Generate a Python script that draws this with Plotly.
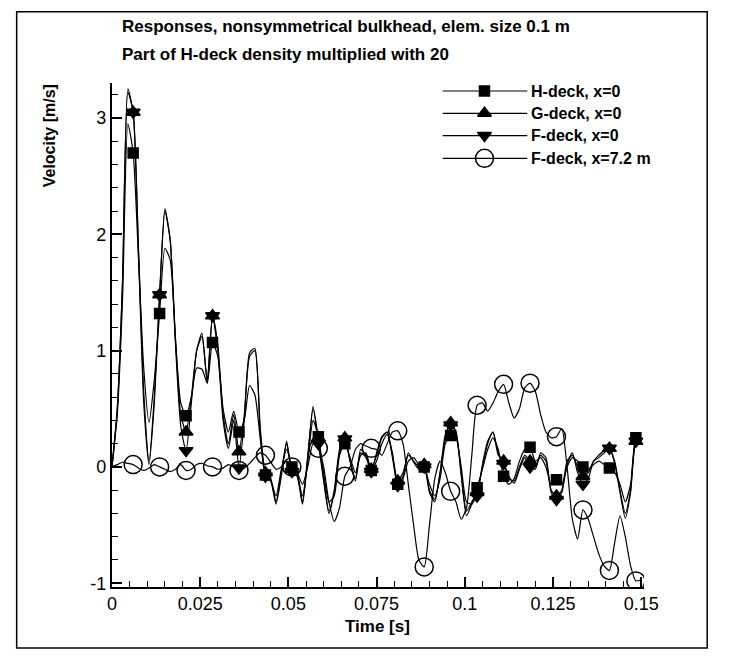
import plotly.graph_objects as go

# ---------------- data ----------------
n_samples = 101
dt = 0.0015
time_s = [round(i * dt, 5) for i in range(n_samples)]
marker_idx = list(range(4, n_samples, 5))

h_deck = [0.00, 0.45, 1.45, 2.95, 2.70, 1.80, 0.85, 0.38, 0.75, 1.32,
          1.88, 1.78, 1.10, 0.55, 0.44, 0.60, 0.85, 0.84, 0.72, 1.07,
          0.95, 0.50, 0.30, 0.48, 0.30, 0.40, 0.70, 0.62, 0.25, -0.07,
          -0.12, -0.25, -0.02, 0.15, 0.00, -0.08, -0.25, 0.05, 0.40, 0.26,
          -0.05, -0.30, -0.25, 0.10, 0.20, 0.08, -0.05, 0.10, 0.12, -0.03,
          0.05, 0.20, 0.28, 0.12, -0.15, -0.10, 0.05, 0.08, 0.02, 0.00,
          -0.15, -0.25, -0.10, 0.20, 0.27, 0.25, 0.00, -0.30, -0.32, -0.18,
          -0.02, 0.15, 0.25, 0.15, -0.08, -0.15, -0.10, 0.05, 0.15, 0.17,
          0.05, 0.08, 0.00, -0.15, -0.11, -0.15, 0.00, 0.08, 0.05, 0.00,
          -0.02, 0.02, 0.05, 0.02, -0.01, -0.05, -0.15, -0.30, -0.15, 0.25,
          0.27]

g_deck = [0.00, 0.50, 1.60, 3.22, 3.05, 1.90, 0.65, 0.05, 0.60, 1.48,
          2.20, 1.95, 1.10, 0.45, 0.30, 0.60, 1.00, 1.12, 0.75, 1.30,
          1.05, 0.45, 0.20, 0.45, 0.13, 0.45, 0.95, 1.00, 0.35, -0.05,
          -0.10, -0.30, -0.05, 0.20, -0.02, -0.05, -0.30, 0.10, 0.50, 0.25,
          -0.10, -0.38, -0.20, 0.15, 0.25, 0.05, -0.10, 0.15, 0.10, -0.02,
          0.10, 0.25, 0.30, 0.10, -0.12, -0.05, 0.10, 0.05, 0.00, 0.02,
          -0.20, -0.28, -0.05, 0.25, 0.38, 0.30, -0.05, -0.38, -0.30, -0.22,
          0.00, 0.20, 0.30, 0.10, 0.05, -0.10, -0.12, 0.00, 0.10, 0.05,
          0.00, 0.10, 0.05, -0.20, -0.25, -0.20, 0.05, 0.10, 0.00, -0.08,
          -0.05, 0.05, 0.08, 0.12, 0.16, 0.05, -0.20, -0.40, -0.20, 0.22,
          0.25]

f_deck = [0.00, 0.50, 1.60, 3.25, 3.05, 1.85, 0.55, 0.02, 0.55, 1.48,
          2.22, 1.95, 1.05, 0.35, 0.14, 0.55, 1.00, 1.15, 0.72, 1.30,
          1.00, 0.40, 0.16, 0.40, -0.01, 0.40, 0.98, 1.02, 0.30, -0.08,
          -0.12, -0.32, -0.08, 0.22, -0.04, -0.08, -0.32, 0.08, 0.52, 0.20,
          -0.12, -0.40, -0.22, 0.12, 0.24, 0.05, -0.12, 0.12, 0.08, -0.04,
          0.12, 0.26, 0.30, 0.08, -0.16, -0.08, 0.12, 0.04, -0.02, 0.00,
          -0.22, -0.30, -0.05, 0.28, 0.36, 0.30, -0.08, -0.42, -0.32, -0.25,
          0.02, 0.22, 0.30, 0.12, 0.03, -0.08, -0.14, -0.02, 0.08, 0.00,
          -0.02, 0.12, 0.08, -0.22, -0.28, -0.22, 0.02, 0.12, -0.05, -0.15,
          -0.10, 0.05, 0.10, 0.14, 0.16, 0.03, -0.22, -0.44, -0.22, 0.22,
          0.24]

f_deck_72 = [0.00, 0.02, 0.04, 0.03, 0.02, -0.01, -0.03, -0.01, 0.02, 0.00,
             -0.02, -0.04, -0.02, 0.02, -0.03, -0.02, 0.02, 0.03, 0.01, 0.00,
             -0.02, -0.01, 0.02, 0.00, -0.03, -0.01, 0.03, 0.08, 0.12, 0.10,
             0.04, -0.02, 0.00, 0.05, 0.00, -0.05, -0.15, 0.00, 0.20, 0.16,
             0.00, -0.30, -0.47, -0.35, -0.08, 0.00, 0.15, 0.20, 0.18, 0.16,
             0.15, 0.10, 0.20, 0.30, 0.31, 0.20, -0.15, -0.50, -0.80, -0.86,
             -0.50, -0.10, 0.05, -0.05, -0.21, -0.30, -0.45, -0.35, 0.10, 0.53,
             0.55, 0.48, 0.55, 0.65, 0.71, 0.55, 0.42, 0.50, 0.68, 0.72,
             0.65, 0.45, 0.30, 0.25, 0.26, 0.33, 0.00, -0.45, -0.62, -0.37,
             -0.45, -0.60, -0.75, -0.85, -0.89, -0.65, -0.42, -0.60, -0.85, -0.98,
             -0.97]

series_names = ["H-deck, x=0", "G-deck, x=0", "F-deck, x=0", "F-deck, x=7.2 m"]
series_values = [h_deck, g_deck, f_deck, f_deck_72]
series_symbols = ["square", "triangle-up", "triangle-down", "circle-open"]
series_sizes = [10, 12, 12, 18]

x_ticks = [0, 0.025, 0.05, 0.075, 0.1, 0.125, 0.15]
x_tick_text = ["0", "0.025", "0.05", "0.075", "0.1", "0.125", "0.15"]
y_ticks = [-1, 0, 1, 2, 3]
y_tick_text = ["-1", "0", "1", "2", "3"]

# ---------------- layout constants (pixels) ----------------
W, H = 729, 660
FONT = "Liberation Sans, Arial, Helvetica, sans-serif"
plot_left, plot_right = 110, 657
plot_top, plot_bottom = 84, 593


def px(x):
    return x / W


def py(y):
    return 1 - y / H


fig = go.Figure()

for vals, sym, size in zip(series_values, series_symbols, series_sizes):
    fig.add_trace(go.Scatter(
        x=time_s, y=vals, mode="lines",
        line=dict(color="black", width=1.2, shape="spline", smoothing=0.6),
        showlegend=False, hoverinfo="skip"))
    fig.add_trace(go.Scatter(
        x=[time_s[i] for i in marker_idx], y=[vals[i] for i in marker_idx],
        mode="markers",
        marker=dict(symbol=sym, size=size, color="black",
                    line=dict(color="black", width=1.5)),
        showlegend=False, hoverinfo="skip"))

# custom legend drawn on a full-page overlay axis
leg_rows = [92, 114.5, 137, 160]
leg_x0, leg_x1, leg_mx, leg_tx = 450, 537, 493, 539
for row, name, sym, size in zip(leg_rows, series_names, series_symbols, series_sizes):
    fig.add_trace(go.Scatter(
        x=[leg_x0, leg_x1], y=[row, row], mode="lines",
        line=dict(color="black", width=1.2), xaxis="x2", yaxis="y2",
        showlegend=False, hoverinfo="skip"))
    fig.add_trace(go.Scatter(
        x=[leg_mx], y=[row], mode="markers",
        marker=dict(symbol=sym, size=size, color="black",
                    line=dict(color="black", width=1.5)),
        xaxis="x2", yaxis="y2", showlegend=False, hoverinfo="skip"))

annotations = []
for row, name in zip(leg_rows, series_names):
    annotations.append(dict(x=px(leg_tx), y=py(row), xref="paper", yref="paper",
                            text="<b>" + name + "</b>", showarrow=False,
                            xanchor="left", yanchor="middle",
                            font=dict(family=FONT, size=16, color="black")))

annotations += [
    dict(x=px(118), y=py(27), xref="paper", yref="paper",
         text="<b>Responses, nonsymmetrical bulkhead, elem. size 0.1 m</b>",
         showarrow=False, xanchor="left", yanchor="middle",
         font=dict(family=FONT, size=17, color="black")),
    dict(x=px(118), y=py(55), xref="paper", yref="paper",
         text="<b>Part of H-deck density multiplied with 20</b>",
         showarrow=False, xanchor="left", yanchor="middle",
         font=dict(family=FONT, size=17, color="black")),
    dict(x=px(383), y=py(633), xref="paper", yref="paper",
         text="<b>Time [s]</b>", showarrow=False, xanchor="center", yanchor="middle",
         font=dict(family=FONT, size=17, color="black")),
    dict(x=px(46), y=py(137), xref="paper", yref="paper",
         text="<b>Velocity [m/s]</b>", showarrow=False, textangle=-90,
         xanchor="center", yanchor="middle",
         font=dict(family=FONT, size=16, color="black")),
]

fig.update_layout(
    width=W, height=H,
    margin=dict(l=0, r=0, t=0, b=0),
    paper_bgcolor="white", plot_bgcolor="rgba(0,0,0,0)",
    showlegend=False,
    annotations=annotations,
    shapes=[dict(type="rect", xref="paper", yref="paper",
                 x0=px(12), x1=px(722), y0=py(655), y1=py(12),
                 line=dict(color="black", width=1.5))],
    xaxis=dict(domain=[px(plot_left), px(plot_right)], range=[0, 0.1508],
               showline=True, linecolor="black", linewidth=2.2,
               ticks="inside", ticklen=10, tickwidth=2, tickcolor="black",
               tickvals=x_ticks, ticktext=x_tick_text,
               minor=dict(ticks="inside", ticklen=6, tickwidth=1.2, tickcolor="black",
                          tick0=0, dtick=0.005, showgrid=False),
               showgrid=False, zeroline=False, anchor="y",
               tickfont=dict(family=FONT, size=18, color="black")),
    yaxis=dict(domain=[py(plot_bottom), py(plot_top)], range=[-1.03, 3.3],
               showline=True, linecolor="black", linewidth=2.2,
               ticks="inside", ticklen=10, tickwidth=2, tickcolor="black",
               tickvals=y_ticks, ticktext=y_tick_text,
               minor=dict(ticks="inside", ticklen=6, tickwidth=1.2, tickcolor="black",
                          tick0=0, dtick=0.2, showgrid=False),
               showgrid=False, zeroline=False, anchor="x",
               tickfont=dict(family=FONT, size=18, color="black")),
    xaxis2=dict(domain=[0, 1], range=[0, W], visible=False, anchor="y2",
                fixedrange=True),
    yaxis2=dict(domain=[0, 1], range=[H, 0], visible=False, anchor="x2",
                fixedrange=True),
)

fig.write_html("out.html")
